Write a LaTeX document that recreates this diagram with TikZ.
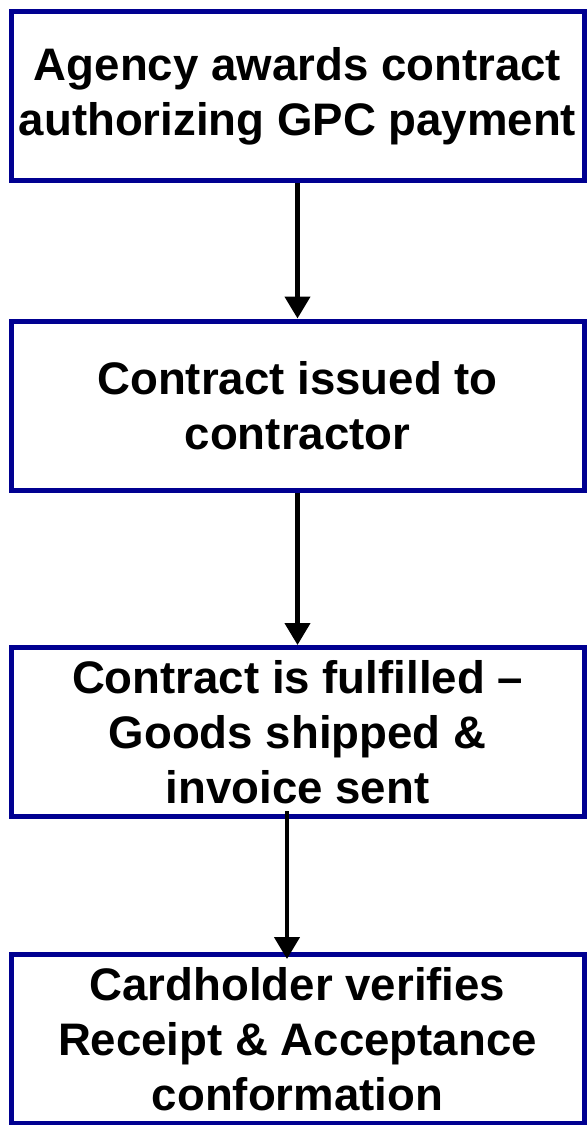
\documentclass[tikz,border=0pt]{standalone}
\usepackage{fontspec}
\setmainfont{Liberation Sans}
\usetikzlibrary{positioning,arrows.meta}
\definecolor{boxblue}{RGB}{0,0,145}

\begin{document}
\begin{tikzpicture}[x=0.5pt,y=-0.5pt,>={Triangle[length=11pt,width=12.5pt]},
	stage/.style={draw=boxblue,line width=2.5pt,
		minimum width=286.5pt,minimum height=84.5pt,
		inner sep=0pt,align=center,
		font=\fontsize{22.8}{27.5}\selectfont\bfseries},
	flow/.style={->,line width=2.2pt}]
	\useasboundingbox (0,0) rectangle (587,1125);

	\node[stage] (award) at (297.5,96) {Agency awards contract\\authorizing GPC payment};
	\node[stage] (issued) at (297.5,405.5) {Contract issued to\\contractor};
	\node[stage] (fulfilled) at (297.5,732) {Contract is fulfilled --\\Goods shipped \&\\invoice sent};
	\node[stage] (verify) at (297.5,1039) {Cardholder verifies\\Receipt \& Acceptance\\conformation};

	\draw[flow] (award) -- (issued);
	\draw[flow] (issued) -- (fulfilled);
	\draw[flow] ([shift={(-10.5,-8)}]fulfilled.south) -- ([shift={(-10.5,7)}]verify.north);
\end{tikzpicture}
\end{document}
